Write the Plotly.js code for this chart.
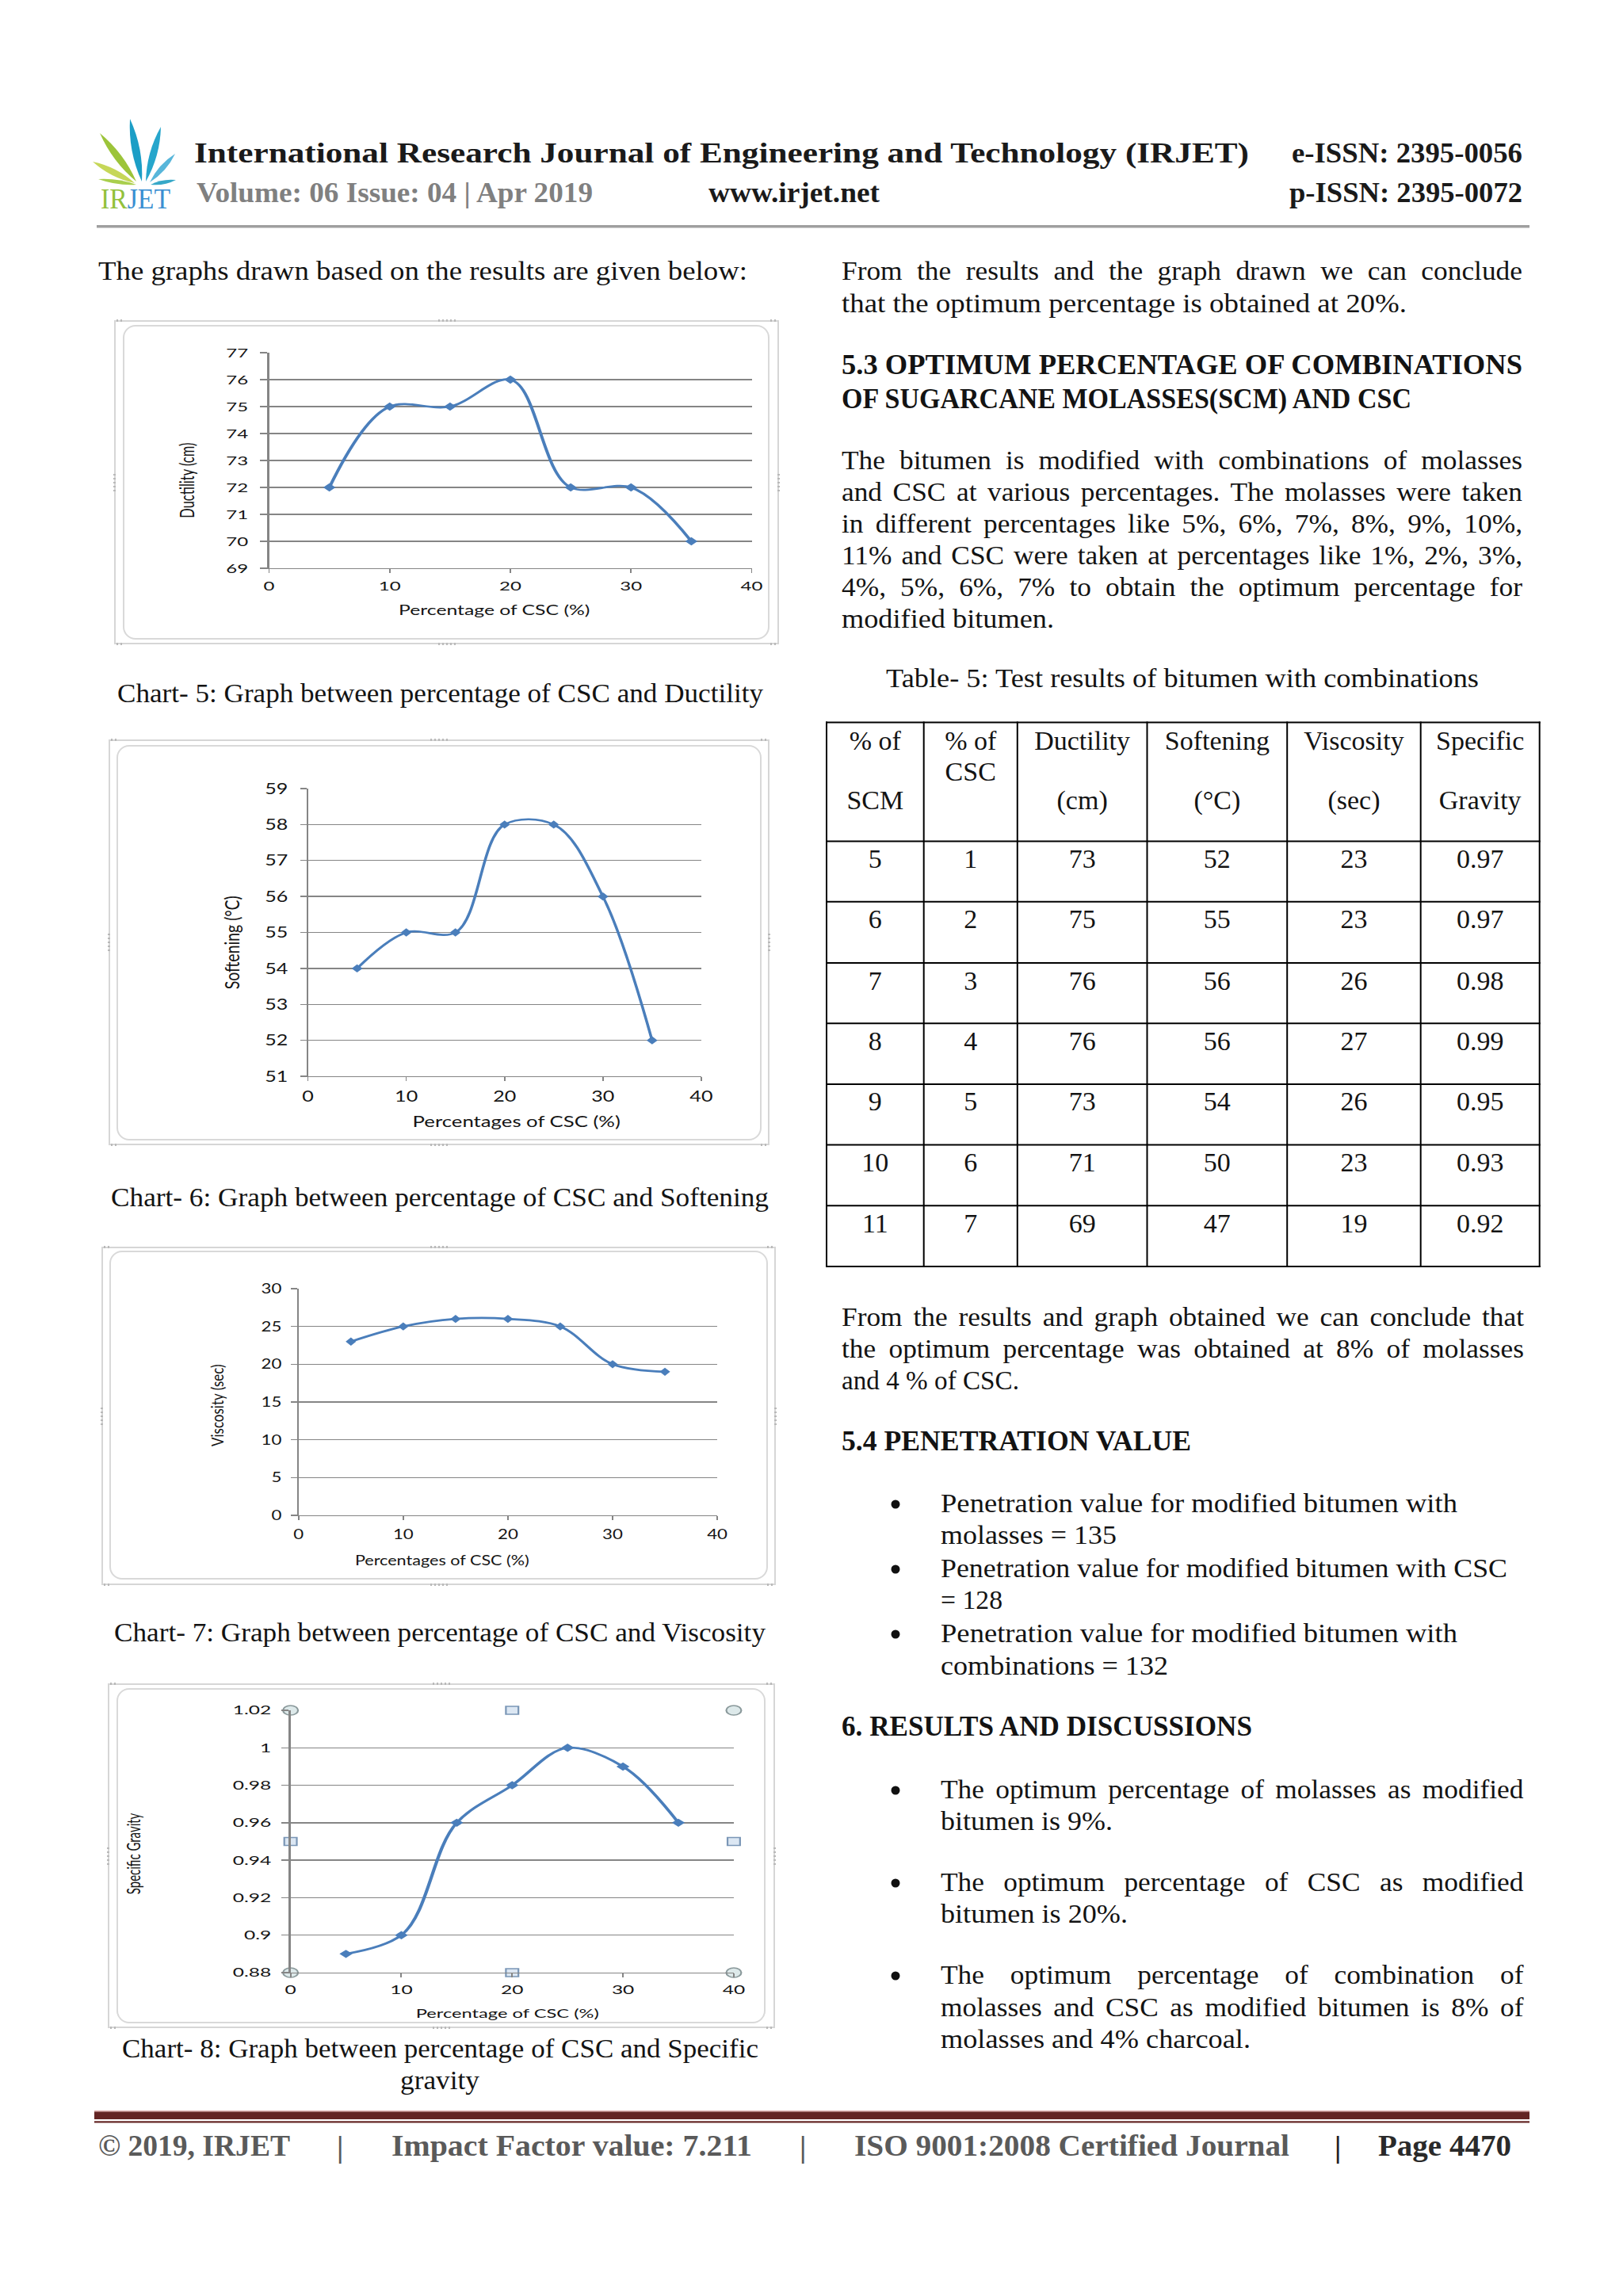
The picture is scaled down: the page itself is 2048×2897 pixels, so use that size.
<!DOCTYPE html>
<html>
<head>
<meta charset="utf-8">
<script src="https://cdn.plot.ly/plotly-3.0.1.min.js"></script>
<style>
html,body{margin:0;padding:0;background:#fff;}
#page{position:relative;width:2048px;height:2897px;overflow:hidden;background:#fff;}
.ln{position:absolute;white-space:nowrap;font-family:'Liberation Serif','Times New Roman',serif;color:#131313;transform-origin:0 0;}
.cell{position:absolute;text-align:center;font-family:'Liberation Serif','Times New Roman',serif;color:#131313;white-space:nowrap;}
.fo{position:absolute;border:2px solid #d6d6d6;box-sizing:border-box;}
.fi{position:absolute;border:2.5px solid #d9d9d9;border-radius:16px;box-sizing:border-box;background:#fff;}
.hh{position:absolute;background:repeating-linear-gradient(90deg,#b9b9b9 0 2px,transparent 2px 5px);}
.hv{position:absolute;background:repeating-linear-gradient(180deg,#b9b9b9 0 2px,transparent 2px 5px);}
.chart{position:absolute;transform-origin:0 0;}
</style>
</head>
<body>
<div id="page"></div>
<script>
// ---------------- DATA ----------------
const cscPct = [5, 10, 15, 20, 25, 30, 35];
const ductility = [72, 75, 75, 76, 72, 72, 70];
const softening = [54, 55, 55, 58, 58, 56, 52];
const viscosity = [23, 25, 26, 26, 25, 20, 19];
const specificGravity = [0.89, 0.90, 0.96, 0.98, 1.00, 0.99, 0.96];

const xTicks = [0, 10, 20, 30, 40];
const ductTicks = [69, 70, 71, 72, 73, 74, 75, 76, 77];
const softTicks = [51, 52, 53, 54, 55, 56, 57, 58, 59];
const viscTicks = [0, 5, 10, 15, 20, 25, 30];
const sgTicks = [0.88, 0.90, 0.92, 0.94, 0.96, 0.98, 1.00, 1.02];
const sgTickText = ['0.88', '0.9', '0.92', '0.94', '0.96', '0.98', '1', '1.02'];

// Table 5
const tblHeadTop = ['% of', '% of', 'Ductility', 'Softening', 'Viscosity', 'Specific'];
const tblHeadMid = ['', 'CSC', '', '', '', ''];
const tblHeadBot = ['SCM', '', '(cm)', '(°C)', '(sec)', 'Gravity'];
const tblSCM = [5, 6, 7, 8, 9, 10, 11];
const tblCSC = [1, 2, 3, 4, 5, 6, 7];
const tblDuct = [73, 75, 76, 76, 73, 71, 69];
const tblSoft = [52, 55, 56, 56, 54, 50, 47];
const tblVisc = [23, 23, 26, 27, 26, 23, 19];
const tblSG = ['0.97', '0.97', '0.98', '0.99', '0.95', '0.93', '0.92'];

// ---------------- PAGE ----------------
const page = document.getElementById('page');
const SVGNS = 'http://www.w3.org/2000/svg';

function leaf(bx, by, tx, ty, w, col) {
  const mx = (bx + tx) / 2, my = (by + ty) / 2, dx = tx - bx, dy = ty - by, L = Math.hypot(dx, dy);
  const nx = -dy / L, ny = dx / L;
  return `<path d="M${bx},${by} Q${mx + nx * w},${my + ny * w} ${tx},${ty} Q${mx - nx * w},${my - ny * w} ${bx},${by}Z" fill="${col}"/>`;
}

let svg = `<svg xmlns="${SVGNS}" width="2048" height="2897" style="position:absolute;left:0;top:0">`;
// logo leaves
svg += leaf(172, 229, 126, 168, 9, '#9cc43a');
svg += leaf(170, 231, 117, 204, 8, '#c6d758');
svg += leaf(172, 233, 124, 226, 5, '#a9cf4d');
svg += leaf(179, 229, 164, 150, 10, '#1c9ec6');
svg += leaf(184, 229, 203, 160, 9, '#26a6cc');
svg += leaf(189, 230, 221, 194, 7, '#58b6da');
svg += leaf(190, 233, 222, 227, 5, '#36a8c8');
svg += `<text x="127" y="263" font-family="Liberation Serif" font-size="36" textLength="88" lengthAdjust="spacingAndGlyphs"><tspan fill="#93c13c">IR</tspan><tspan fill="#3b8fd2">JET</tspan></text>`;
// header rule
svg += `<rect x="122" y="284" width="1808" height="3" fill="#9f9f9f"/><rect x="122" y="287" width="1808" height="1" fill="#d2d2d2"/>`;
// footer bars
svg += `<rect x="119" y="2663" width="1811" height="1.5" fill="#d9a3a3"/>`;
svg += `<rect x="119" y="2664.5" width="1811" height="9.5" fill="#632423"/>`;
svg += `<rect x="119" y="2676.3" width="1811" height="2.2" fill="#632423"/>`;
// bullets
[1908, 1990, 2072, 2269, 2386, 2503].forEach(b => { svg += `<circle cx="1130" cy="${b - 10}" r="5.5" fill="#111"/>`; });
// table grid
const colX = [1043, 1165.7, 1283.8, 1447.5, 1624.2, 1792.7, 1942.7];
const rowY = [911.5, 1061.6, 1137.8, 1215, 1291.2, 1367.9, 1444.5, 1521.2, 1597.9];
colX.forEach(x => { svg += `<line x1="${x}" y1="${rowY[0] - 1}" x2="${x}" y2="${rowY[rowY.length - 1] + 1}" stroke="#000" stroke-width="2"/>`; });
rowY.forEach(y => { svg += `<line x1="${colX[0] - 1}" y1="${y}" x2="${colX[colX.length - 1] + 1}" y2="${y}" stroke="#000" stroke-width="2"/>`; });
svg += `</svg>`;
page.insertAdjacentHTML('beforeend', svg);

const ASC = 0.8375;
function addLine(o) {
  const d = document.createElement('div');
  d.className = 'ln';
  d.textContent = o.t;
  const fs = o.fs || 34;
  d.style.fontSize = fs + 'px';
  d.style.lineHeight = fs + 'px';
  d.style.left = o.x + 'px';
  d.style.top = (o.b - ASC * fs) + 'px';
  if (o.bold) d.style.fontWeight = 'bold';
  if (o.color) d.style.color = o.color;
  page.appendChild(d);
  const nat = d.getBoundingClientRect().width;
  if (o.w) {
    if (o.j) {
      let k = o.k || (o.bold ? 1.06 : 1.04);
      if (nat * k > o.w) k = o.w / nat;
      d.style.whiteSpace = 'normal';
      d.style.width = (o.w / k) + 'px';
      d.style.textAlign = 'justify';
      d.style.textAlignLast = 'justify';
      d.style.transform = `scaleX(${k})`;
    } else {
      d.style.transform = `scaleX(${o.w / nat})`;
    }
  }
  return d;
}

// header
addLine({t: 'International Research Journal of Engineering and Technology (IRJET)', x: 245, b: 205, w: 1331, fs: 36, bold: true, color: '#1a1a1a'});
addLine({t: 'e-ISSN: 2395-0056', x: 1630, b: 205, w: 291, fs: 36, bold: true, color: '#1a1a1a'});
addLine({t: 'Volume: 06 Issue: 04 | Apr 2019', x: 248, b: 255, w: 500, fs: 35, bold: true, color: '#808080'});
addLine({t: 'www.irjet.net', x: 894, b: 255, w: 216, fs: 35, bold: true, color: '#1a1a1a'});
addLine({t: 'p-ISSN: 2395-0072', x: 1627, b: 255, w: 294, fs: 35, bold: true, color: '#1a1a1a'});

// left column text
addLine({t: 'The graphs drawn based on the results are given below:', x: 124, b: 353, w: 819});
addLine({t: 'Chart- 5: Graph between percentage of CSC and Ductility', x: 148, b: 886, w: 815});
addLine({t: 'Chart- 6: Graph between percentage of CSC and Softening', x: 140, b: 1522, w: 830});
addLine({t: 'Chart- 7: Graph between percentage of CSC and Viscosity', x: 144, b: 2071, w: 822});
addLine({t: 'Chart- 8: Graph between percentage of CSC and Specific', x: 154, b: 2596, w: 803});
addLine({t: 'gravity', x: 505, b: 2636, w: 100});

// right column text
const R = 1062, RW = 859;
addLine({t: 'From the results and the graph drawn we can conclude', x: R, b: 353, w: RW, j: true});
addLine({t: 'that the optimum percentage is obtained at 20%.', x: R, b: 394, w: 713});
addLine({t: '5.3 OPTIMUM PERCENTAGE OF COMBINATIONS', x: R, b: 472, w: RW, j: true, bold: true, fs: 35});
addLine({t: 'OF SUGARCANE MOLASSES(SCM) AND CSC', x: R, b: 515, w: 719, bold: true, fs: 35});
const para53 = [
  'The bitumen is modified with combinations of molasses',
  'and CSC at various percentages. The molasses were taken',
  'in different percentages like 5%, 6%, 7%, 8%, 9%, 10%,',
  '11% and CSC were taken at percentages like 1%, 2%, 3%,',
  '4%, 5%, 6%, 7% to obtain the optimum percentage for'
];
para53.forEach((t, i) => addLine({t, x: R, b: 592 + i * 40.1, w: RW, j: true}));
addLine({t: 'modified bitumen.', x: R, b: 792.5, w: 268});
addLine({t: 'Table- 5: Test results of bitumen with combinations', x: 1118, b: 867, w: 748});

addLine({t: 'From the results and graph obtained we can conclude that', x: R, b: 1673, w: 861, j: true});
addLine({t: 'the optimum percentage was obtained at 8% of molasses', x: R, b: 1713, w: 861, j: true});
addLine({t: 'and 4 % of CSC.', x: R, b: 1753, w: 224});
addLine({t: '5.4 PENETRATION VALUE', x: R, b: 1830, w: 441, bold: true, fs: 35});
const BX = 1186.5;
addLine({t: 'Penetration value for modified bitumen with', x: BX, b: 1908, w: 652});
addLine({t: 'molasses = 135', x: BX, b: 1948, w: 222});
addLine({t: 'Penetration value for modified bitumen with CSC', x: BX, b: 1990, w: 715});
addLine({t: '= 128', x: BX, b: 2030, w: 78});
addLine({t: 'Penetration value for modified bitumen with', x: BX, b: 2072, w: 652});
addLine({t: 'combinations = 132', x: BX, b: 2113, w: 287});
addLine({t: '6. RESULTS AND DISCUSSIONS', x: R, b: 2190, w: 518, bold: true, fs: 35});
const BW = 1922 - BX;
addLine({t: 'The optimum percentage of molasses as modified', x: BX, b: 2269, w: BW, j: true});
addLine({t: 'bitumen is 9%.', x: BX, b: 2309, w: 217});
addLine({t: 'The optimum percentage of CSC as modified', x: BX, b: 2386, w: BW, j: true});
addLine({t: 'bitumen is 20%.', x: BX, b: 2426, w: 236});
addLine({t: 'The optimum percentage of combination of', x: BX, b: 2503, w: BW, j: true});
addLine({t: 'molasses and CSC as modified bitumen is 8% of', x: BX, b: 2544, w: BW, j: true});
addLine({t: 'molasses and 4% charcoal.', x: BX, b: 2584, w: 391});

// footer
const FG = '#5a5a5a';
addLine({t: '© 2019, IRJET', x: 124, b: 2720, w: 242, fs: 38, bold: true, color: FG});
addLine({t: '|', x: 425, b: 2722, fs: 38, bold: true, color: FG});
addLine({t: 'Impact Factor value: 7.211', x: 494, b: 2720, w: 455, fs: 38, bold: true, color: FG});
addLine({t: '|', x: 1009, b: 2722, fs: 38, bold: true, color: FG});
addLine({t: 'ISO 9001:2008 Certified Journal', x: 1078, b: 2720, w: 549, fs: 38, bold: true, color: FG});
addLine({t: '|', x: 1684, b: 2722, fs: 38, bold: true, color: '#222'});
addLine({t: 'Page 4470', x: 1739, b: 2720, w: 168, fs: 38, bold: true, color: '#2a2a2a'});

// table cells
function addCell(text, ci, b) {
  const d = document.createElement('div');
  d.className = 'cell';
  d.textContent = text;
  d.style.fontSize = '34px';
  d.style.lineHeight = '34px';
  d.style.left = colX[ci] + 'px';
  d.style.width = (colX[ci + 1] - colX[ci]) + 'px';
  d.style.top = (b - ASC * 34) + 'px';
  page.appendChild(d);
}
const headB = [946, 985, 1021];
[tblHeadTop, tblHeadMid, tblHeadBot].forEach((row, ri) => row.forEach((t, ci) => { if (t) addCell(t, ci, headB[ri]); }));
const tblCols = [tblSCM, tblCSC, tblDuct, tblSoft, tblVisc, tblSG];
tblCols.forEach((col, ci) => col.forEach((v, ri) => addCell(String(v), ci, rowY[ri + 1] + 34)));

// ---------------- CHARTS ----------------
const GRID = '#858585';
const LINEC = '#4a7ebb';
const TXT = '#141414';

function box(r, cls) {
  const d = document.createElement('div');
  d.className = cls;
  d.style.left = r[0] + 'px'; d.style.top = r[1] + 'px';
  d.style.width = r[2] + 'px'; d.style.height = r[3] + 'px';
  page.appendChild(d);
}
function handles(o) {
  const [x, y, w, h] = o;
  const add = (cls, l, t, ww, hh) => { const d = document.createElement('div'); d.className = cls; d.style.left = l + 'px'; d.style.top = t + 'px'; d.style.width = ww + 'px'; d.style.height = hh + 'px'; page.appendChild(d); };
  add('hh', x + w / 2 - 11, y - 1, 22, 3);
  add('hh', x + w / 2 - 11, y + h - 2, 22, 3);
  add('hv', x - 1, y + h / 2 - 11, 3, 22);
  add('hv', x + w - 2, y + h / 2 - 11, 3, 22);
  add('hh', x + 3, y - 1, 8, 3); add('hh', x + w - 11, y - 1, 8, 3);
  add('hh', x + 3, y + h - 2, 8, 3); add('hh', x + w - 11, y + h - 2, 8, 3);
}

const charts = [
  {x: cscPct, y: ductility, yTicks: ductTicks, yText: ductTicks.map(String),
   xTitle: 'Percentage of CSC (%)', yTitle: 'Ductility (cm)',
   outer: [144, 404, 839, 409], inner: [155, 410, 816, 397],
   px0: 339, px1: 949, pyT: 445, pyB: 717, s: 1.5, f: 16, tf: 16.5,
   lblR: 313, lblCY: 738, ytX: 235, ytY: 606, xtX: 624, xtY: 770, yls: 9, xls: 8},
  {x: cscPct, y: softening, yTicks: softTicks, yText: softTicks.map(String),
   xTitle: 'Percentages of CSC (%)', yTitle: 'Softening (°C)',
   outer: [137, 933, 834, 512], inner: [147, 940, 814, 499],
   px0: 389, px1: 884, pyT: 995, pyB: 1358, s: 1.32, f: 19, tf: 19.5,
   lblR: 363, lblCY: 1383, ytX: 292, ytY: 1189, xtX: 652, xtY: 1415, yls: 11, xls: 12},
  {x: cscPct, y: viscosity, yTicks: viscTicks, yText: viscTicks.map(String),
   xTitle: 'Percentages of CSC (%)', yTitle: 'Viscosity (sec)',
   outer: [128, 1573, 851, 427], inner: [138, 1578, 831, 415],
   px0: 377, px1: 905, pyT: 1626, pyB: 1912, s: 1.27, f: 17.5, tf: 17,
   lblR: 355, lblCY: 1935, ytX: 273, ytY: 1773, xtX: 558, xtY: 1968, yls: 9, xls: 10},
  {x: cscPct, y: specificGravity, yTicks: sgTicks, yText: sgTickText,
   xTitle: 'Percentage of CSC (%)', yTitle: 'Specific Gravity',
   outer: [136, 2124, 842, 435], inner: [147, 2130, 819, 423],
   px0: 367, px1: 927, pyT: 2158, pyB: 2489, s: 1.58, f: 15.5, tf: 15,
   lblR: 343, lblCY: 2510, ytX: 168, ytY: 2339, xtX: 641, xtY: 2540, yls: 7, xls: 8, handles: true}
];

function drawChart(c) {
  box(c.outer, 'fo');
  box(c.inner, 'fi');
  handles(c.outer);
  const [ix, iy, iw, ih] = c.inner;
  const W = iw / c.s;
  const wrap = document.createElement('div');
  wrap.className = 'chart';
  wrap.style.left = ix + 'px'; wrap.style.top = iy + 'px';
  wrap.style.width = W + 'px'; wrap.style.height = ih + 'px';
  wrap.style.transform = `scaleX(${c.s})`;
  page.appendChild(wrap);
  const gd = document.createElement('div');
  wrap.appendChild(gd);
  const ml = (c.px0 - ix) / c.s, mr = (ix + iw - c.px1) / c.s, mt = c.pyT - iy, mb = iy + ih - c.pyB;
  const yr = [c.yTicks[0], c.yTicks[c.yTicks.length - 1]];
  const xr = [xTicks[0], xTicks[xTicks.length - 1]];
  const data = [{
    x: c.x, y: c.y, type: 'scatter', mode: 'lines+markers',
    line: {shape: 'spline', smoothing: 1, color: LINEC, width: 2.7},
    marker: {symbol: 'diamond', size: 8, color: LINEC},
    hoverinfo: 'skip', cliponaxis: false
  }];
  if (c.handles) {
    const xm = (xr[0] + xr[1]) / 2, ym = (yr[0] + yr[1]) / 2;
    data.push({x: [xr[0], xr[1], xr[0], xr[1]], y: [yr[1], yr[1], yr[0], yr[0]], type: 'scatter', mode: 'markers',
      marker: {symbol: 'circle', size: 12, color: '#dde9ea', line: {color: '#8a999b', width: 1.4}}, hoverinfo: 'skip', cliponaxis: false});
    data.push({x: [xm, xm, xr[0], xr[1]], y: [yr[1], yr[0], ym, ym], type: 'scatter', mode: 'markers',
      marker: {symbol: 'square', size: 10, color: '#dce7f3', line: {color: '#7a96b6', width: 1.4}}, hoverinfo: 'skip', cliponaxis: false});
  }
  const px = v => (v - c.px0) / (c.px1 - c.px0);
  const py = v => (c.pyB - v) / (c.pyB - c.pyT);
  const layout = {
    width: W, height: ih,
    margin: {l: ml, r: mr, t: mt, b: mb, pad: 0},
    paper_bgcolor: 'rgba(0,0,0,0)', plot_bgcolor: 'rgba(0,0,0,0)',
    showlegend: false,
    font: {family: 'Lato, sans-serif', size: c.f, color: TXT},
    xaxis: {range: xr, tickmode: 'array', tickvals: xTicks, ticktext: xTicks.map(String),
      showgrid: false, zeroline: false, showline: true, linecolor: GRID, linewidth: 1.4,
      ticks: 'outside', ticklen: 5, tickwidth: 1.3, tickcolor: GRID, ticklabelstandoff: c.xls,
      tickfont: {size: c.f, color: TXT}, automargin: false, fixedrange: true},
    yaxis: {range: yr, tickmode: 'array', tickvals: c.yTicks, ticktext: c.yText,
      showgrid: true, gridcolor: GRID, gridwidth: 1.4, zeroline: false, showline: true, linecolor: GRID, linewidth: 1.4,
      ticks: 'outside', ticklen: 6, tickwidth: 1.3, tickcolor: GRID, ticklabelstandoff: c.yls,
      tickfont: {size: c.f, color: TXT}, automargin: false, fixedrange: true},
    annotations: [
      {text: c.xTitle, xref: 'paper', yref: 'paper', x: px(c.xtX), y: py(c.xtY), xanchor: 'center', yanchor: 'middle',
       showarrow: false, font: {size: c.tf, color: TXT}},
      {text: c.yTitle, xref: 'paper', yref: 'paper', x: px(c.ytX), y: py(c.ytY), xanchor: 'center', yanchor: 'middle',
       textangle: -90, showarrow: false, font: {size: c.tf, color: TXT}}
    ]
  };
  return Plotly.newPlot(gd, data, layout, {staticPlot: true, displayModeBar: false}).then(() => {
    // fine-tune tick label offsets to the reference
    let maxRight = -1e9;
    gd.querySelectorAll('.ytick text').forEach(t => { const r = t.getBoundingClientRect(); if (r.width > 0) maxRight = Math.max(maxRight, r.right); });
    let sumCy = 0, n = 0;
    gd.querySelectorAll('.xtick text').forEach(t => { const r = t.getBoundingClientRect(); if (r.height > 0) { sumCy += r.top + r.height / 2; n++; } });
    const upd = {};
    if (maxRight > -1e8) upd['yaxis.ticklabelstandoff'] = Math.round(c.yls + (maxRight - c.lblR) / c.s);
    if (n) upd['xaxis.ticklabelstandoff'] = Math.round(c.xls + (c.lblCY - sumCy / n));
    return Plotly.relayout(gd, upd);
  });
}

charts.forEach(c => drawChart(c));
</script>
</body>
</html>
